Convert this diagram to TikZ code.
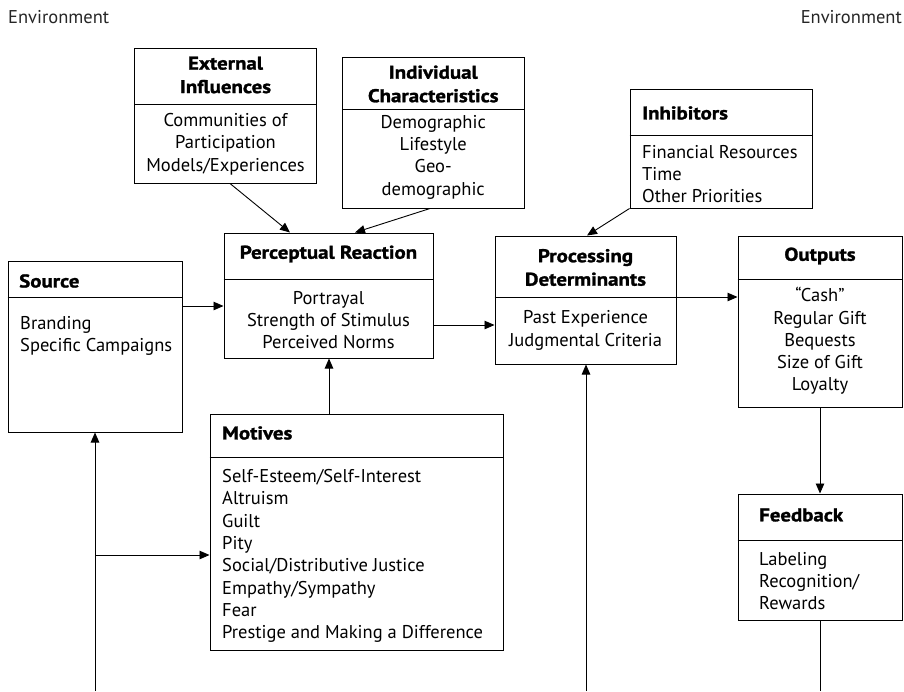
\documentclass[tikz,border=0pt]{standalone}
\usepackage{fontspec}
\setmainfont{PT Sans}
\newfontfamily\hfont{PT Sans Bold}[FakeStretch=1.13, FakeBold=1.4]
\usetikzlibrary{arrows.meta}

\tikzset{
  panel/.style={draw=black, line width=1pt, inner sep=0pt, minimum width=#1},
  rule/.style={line width=1pt},
  headc/.style={inner sep=0pt, align=center, font=\fontsize{18.5}{23.5}\hfont},
  headl/.style={inner sep=0pt, anchor=west, align=left, font=\fontsize{18.5}{23.5}\hfont},
  bodyc/.style={inner sep=0pt, align=center, font=\fontsize{18.5}{22.3}\selectfont},
  bodyl/.style={inner sep=0pt, anchor=west, align=left, font=\fontsize{18.5}{22.3}\selectfont},
  envtext/.style={inner sep=0pt, text=black!85, font=\fontsize{18.5}{20}\selectfont},
  link/.style={line width=0.9pt, -{Triangle[length=10pt,width=8.5pt]}},
  plain/.style={line width=0.9pt},
}

\begin{document}
\begin{tikzpicture}[x=1pt,y=-1pt]
\useasboundingbox (0,0) rectangle (904,691);

% environment labels
\node[envtext, anchor=west] (envl) at (8,17) {Environment};
\node[envtext, anchor=east] (envr) at (902,17) {Environment};

% External Influences
\node[panel=182pt, minimum height=135pt] (ext) at (225.5,115.5) {};
\draw[rule] (ext.west |- 0,104) -- (ext.east |- 0,104);
\node[headc] (exth) at (225.5,75) {External\\Influences};
\node[bodyc] (extb) at (225.5,144) {Communities of\\Participation\\Models/Experiences};

% Individual Characteristics
\node[panel=181.5pt, minimum height=151pt] (ind) at (433.25,132.5) {};
\draw[rule] (ind.west |- 0,109) -- (ind.east |- 0,109);
\node[headc] (indh) at (433.25,84) {Individual\\Characteristics};
\node[bodyc] (indb) at (433.25,157) {Demographic\\Lifestyle\\Geo-\\demographic};

% Inhibitors
\node[panel=182pt, minimum height=119pt] (inh) at (721,148.5) {};
\draw[rule] (inh.west |- 0,135) -- (inh.east |- 0,135);
\node[headl] (inhh) at (642,113) {Inhibitors};
\node[bodyl] (inhb) at (642,174) {Financial Resources\\Time\\Other Priorities};

% Perceptual Reaction
\node[panel=209pt, minimum height=125pt] (perc) at (328.5,295.5) {};
\draw[rule] (perc.west |- 0,279) -- (perc.east |- 0,279);
\node[headc] (perch) at (328.5,254) {Perceptual Reaction};
\node[bodyc] (percb) at (328.5,320) {Portrayal\\Strength of Stimulus\\Perceived Norms};

% Source
\node[panel=174pt, minimum height=171pt] (src) at (95,346.5) {};
\draw[rule] (src.west |- 0,297) -- (src.east |- 0,297);
\node[headl] (srch) at (19,281) {Source};
\node[bodyl] (srcb) at (20,336) {Branding\\Specific Campaigns};

% Processing Determinants
\node[panel=181pt, minimum height=128pt] (proc) at (585.5,300) {};
\draw[rule] (proc.west |- 0,297) -- (proc.east |- 0,297);
\node[headc] (proch) at (585.5,267.5) {Processing\\Determinants};
\node[bodyc] (procb) at (585.5,330.5) {Past Experience\\Judgmental Criteria};

% Outputs
\node[panel=164pt, minimum height=171pt] (out) at (820,321.5) {};
\draw[rule] (out.west |- 0,279) -- (out.east |- 0,279);
\node[headc] (outh) at (820,256) {Outputs};
\node[bodyc] (outb) at (820,341) {“Cash”\\Regular Gift\\Bequests\\Size of Gift\\Loyalty};

% Motives
\node[panel=293pt, minimum height=236pt] (mot) at (356.5,532) {};
\draw[rule] (mot.west |- 0,457) -- (mot.east |- 0,457);
\node[headl] (moth) at (222,433) {Motives};
\node[bodyl] (motb) at (222,556) {Self-Esteem/Self-Interest\\Altruism\\Guilt\\Pity\\Social/Distributive Justice\\Empathy/Sympathy\\Fear\\Prestige and Making a Difference};

% Feedback
\node[panel=164pt, minimum height=126pt] (fb) at (820,557) {};
\draw[rule] (fb.west |- 0,540) -- (fb.east |- 0,540);
\node[headl] (fbh) at (759,515) {Feedback};
\node[bodyl] (fbb) at (759,581) {Labeling\\Recognition/\\Rewards};

% loose ends at the lower edge
\coordinate (b1) at (95,691);
\coordinate (j1) at (95,555);
\coordinate (b2) at (586,691);
\coordinate (b3) at (820,691);

% connectors
\draw[link] (230,0 |- ext.south) -- (290,0 |- perc.north);
\draw[link] (430,0 |- ind.south) -- (355,0 |- perc.north);
\draw[link] (inh.south west) -- (587,0 |- proc.north);
\draw[link] (src.east |- 0,306) -- (perc.west |- 0,306);
\draw[link] (perc.east |- 0,325) -- (proc.west |- 0,325);
\draw[link] (proc.east |- 0,297) -- (out.west |- 0,297);
\draw[link] (329,0 |- mot.north) -- (329,0 |- perc.south);
\draw[link] (820,0 |- out.south) -- (820,0 |- fb.north);
\draw[link] (b1) -- (95,0 |- src.south);
\draw[link] (j1) -- (mot.west |- j1);
\draw[link] (b2) -- (586,0 |- proc.south);
\draw[plain] (820,0 |- fb.south) -- (b3);
\end{tikzpicture}
\end{document}
